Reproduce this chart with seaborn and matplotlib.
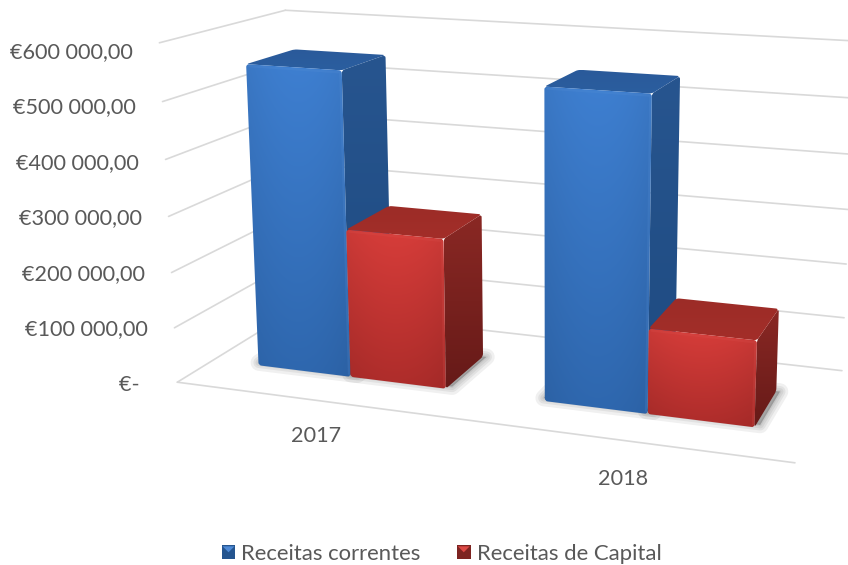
import numpy as np
import pandas as pd
import seaborn as sns
import matplotlib.pyplot as plt
from matplotlib.path import Path
from matplotlib.patches import Polygon, Rectangle
from matplotlib.transforms import Affine2D, Transform
from matplotlib.legend_handler import HandlerBase

# values
anos = ['2017', '2018']
receitas_correntes = [550000, 545000]
receitas_capital = [270000, 150000]
series = ['Receitas correntes', 'Receitas de Capital']
yticks = [0, 100000, 200000, 300000, 400000, 500000, 600000]
ylabels = ['€-  ', '€100 000,00', '€200 000,00', '€300 000,00', '€400 000,00', '€500 000,00', '€600 000,00']

W, H = 848, 565
YMAX = 600000.
Z0, Z1 = 0.28, 0.68
GRID = '#d9d9d9'
TXT = '#595959'

sns.set_theme(style='white')
plt.rcParams['font.family'] = ['Lato', 'DejaVu Sans']

# camera: (x 0-1, y 0-1, depth 0-1) -> picture pixel, fitted on the chart box and bar corners
r1, r2 = receitas_correntes[0] / YMAX, receitas_correntes[1] / YMAX
r3, r4 = receitas_capital[0] / YMAX, receitas_capital[1] / YMAX
box = [
    (0, 0, 0, 176, 382.7), (1, 0, 0, 793.3, 464), (0, 1, 0, 158.3, 46),
    (0, 0, 1, 297, 307.5), (1, 0, 1, 842, 373), (0, 1, 1, 283.3, 11.7), (1, 1, 1, 854, 41.5),
]
anchors = box * 4 + [
    (1/12, 0, Z0, 260, 365), (3/12, 0, Z0, 351.7, 376), (5/12, 0, Z0, 445, 387.7),
    (7/12, 0, Z0, 545, 400.7), (9/12, 0, Z0, 647.7, 412.7), (11/12, 0, Z0, 755, 426),
    (5/12, 0, Z1, 480.7, 356.7), (11/12, 0, Z1, 776, 393.3),
    (1/12, r1, Z0, 249.3, 61.7), (3/12, r1, Z0, 344, 68.3), (1/12, r1, Z1, 296.7, 46.7), (3/12, r1, Z1, 385, 51.7),
    (3/12, r3, Z0, 349.3, 229.3), (5/12, r3, Z0, 445, 239.3), (3/12, r3, Z1, 390, 207.3), (5/12, r3, Z1, 480, 215.7),
    (7/12, r2, Z0, 547.7, 84), (9/12, r2, Z0, 654, 89.3), (7/12, r2, Z1, 581.7, 66.7), (9/12, r2, Z1, 681, 74),
    (9/12, r4, Z0, 650, 325), (11/12, r4, Z0, 756.7, 336.7), (9/12, r4, Z1, 680, 297.3), (11/12, r4, Z1, 778.3, 308.3),
]
A, b = [], []
for x, y, z, u, v in anchors:
    A.append([x, y, z, 1, 0, 0, 0, 0, -u*x, -u*y, -u*z]); b.append(u)
    A.append([0, 0, 0, 0, x, y, z, 1, -v*x, -v*y, -v*z]); b.append(v)
cam = np.append(np.linalg.lstsq(np.array(A, float), np.array(b, float), rcond=None)[0], 1).reshape(3, 4)


def project(xd, yd, z):
    # xd is the categorical axis position (-0.5..1.5), yd the value
    xn = (np.asarray(xd, float) + 0.5) / 2
    yn = np.asarray(yd, float) / YMAX
    p = np.stack([xn, yn, np.full_like(xn, z), np.ones_like(xn)], axis=-1) @ cam.T
    return p[..., :2] / p[..., 2:]


class Depth(Transform):
    input_dims = output_dims = 2

    def __init__(self, z):
        super().__init__()
        self.z = z

    def transform_non_affine(self, values):
        px = project(values[:, 0], values[:, 1], self.z)
        return np.column_stack([px[:, 0], H - px[:, 1]])


df = pd.DataFrame({
    'ano': anos * 2,
    'valor': receitas_correntes + receitas_capital,
    'tipo': [series[0]] * 2 + [series[1]] * 2,
})

fig = plt.figure(figsize=(W / 100, H / 100), dpi=100)
ax = fig.add_axes([0, 0, 1, 1])
sns.barplot(data=df, x='ano', y='valor', hue='tipo', palette=['#3a77c4', '#c93734'],
            width=2/3, gap=0, saturation=1, legend=False, ax=ax)
ax.set_xlim(-0.5, 1.5)
ax.set_ylim(0, YMAX)
ax.axis('off')
px_trans = Affine2D().scale(1, -1).translate(0, H)


def rounded(pts, r=3.0):
    pts = np.asarray(pts)
    verts, codes = [], []
    n = len(pts)
    for i in range(n):
        p, a, c = pts[i], pts[i-1], pts[(i+1) % n]
        s = p + (a-p) / np.linalg.norm(a-p) * r
        e = p + (c-p) / np.linalg.norm(c-p) * r
        verts += [s, p, e]
        codes += [Path.LINETO if i else Path.MOVETO, Path.CURVE3, Path.CURVE3]
    verts.append(verts[0]); codes.append(Path.CLOSEPOLY)
    return Path(verts, codes)


def hex2rgb(c):
    return np.array([int(c[i:i+2], 16) for i in (1, 3, 5)]) / 255.


def face(pts, top, bottom, zo, bow=0.0):
    pts = np.asarray(pts)
    x0, y0 = pts.min(axis=0)
    x1, y1 = pts.max(axis=0)
    v = np.linspace(0, 1, 64)[:, None, None]
    u = np.linspace(-1, 1, 32)[None, :, None]
    img = (hex2rgb(top) * (1 - v) + hex2rgb(bottom) * v) * (1 + bow * (1 - u**2) - bow / 2)
    im = ax.imshow(np.clip(img, 0, 1), extent=(x0, x1, y1, y0), transform=px_trans,
                   origin='upper', aspect='auto', zorder=zo, interpolation='bilinear')
    im.set_clip_path(rounded(pts), transform=px_trans)


COLORS = {
    'blue': dict(front=('#3c7bca', '#2d64a9'), side=('#27558f', '#1e4a80'), top=('#2a5a9a', '#2b5e9f'), edge='#5b93d8'),
    'red': dict(front=('#d03b38', '#a82b29'), side=('#8a2824', '#661a18'), top=('#9c2c27', '#a32e29'), edge='#dd5552'),
}

# grid on the walls and the floor
for t in yticks:
    left = project([-0.5, -0.5], [t, t], 0)[0], project([-0.5, -0.5], [t, t], 1)[0]
    back = project([-0.5, 1.5], [t, t], 1)
    ax.plot(*zip(*left), color=GRID, lw=1.2, transform=px_trans, zorder=1)
    ax.plot(back[:, 0], back[:, 1], color=GRID, lw=1.2, transform=px_trans, zorder=1)
front = project([-0.5, 1.5], [0, 0], 0)
ax.plot(front[:, 0], front[:, 1], color=GRID, lw=1.2, transform=px_trans, zorder=1)

# the bars seaborn drew are the front faces, the rest is built from them
bars = sorted(ax.patches, key=lambda p: p.get_x())
for i, bar in enumerate(bars):
    x0, x1 = bar.get_x(), bar.get_x() + bar.get_width()
    h = bar.get_height()
    col = COLORS['blue'] if i % 2 == 0 else COLORS['red']
    zo = 10 + i * 2
    bar.set_transform(Depth(Z0))
    bar.set_visible(False)

    fl = project([x0, x1, x1, x0], [h, h, 0, 0], Z0)
    bk = project([x0, x1, x1, x0], [h, h, 0, 0], Z1)
    face(fl, *col['front'], zo + 0.5, bow=0.06)
    face([bk[1], fl[1], fl[2], bk[2]], *col['side'], zo + 0.2)
    face([bk[0], bk[1], fl[1], fl[0]], *col['top'], zo + 0.3)
    ax.plot([fl[0, 0] + 3, fl[1, 0] - 1.5, fl[2, 0] - 1.5], [fl[0, 1] + 2, fl[1, 1] + 2, fl[2, 1] - 3],
            color=col['edge'], alpha=0.2, lw=1.6, transform=px_trans, zorder=zo + 0.6)

    # soft floor shadow
    foot = np.vstack([project([x0 - 0.012, x1 + 0.012], [0, 0], Z0 + 0.03),
                      project([x1 + 0.012, x0 - 0.012], [0, 0], Z1)])
    for lw in (12, 8, 5, 2):
        ax.add_patch(Polygon(foot, closed=True, fc='#000000', ec='#000000', alpha=0.06, lw=lw,
                             joinstyle='round', transform=px_trans, zorder=5))

ax.set_xlim(-0.5, 1.5)
ax.set_ylim(0, YMAX)

# value labels are evenly spaced down the left side
for t, lab, py in zip(yticks, ylabels, np.linspace(385, 52, len(yticks))):
    gx = project([-0.5], [t], 0)[0, 0]
    ax.text(gx - 27, py, lab, ha='right', va='center', fontsize=15.6, color=TXT,
            transform=px_trans, clip_on=False)

for cat, (lx, ly) in zip(anos, [(316.5, 436.5), (623.5, 479)]):
    ax.text(lx, ly, cat, ha='center', va='center', fontsize=15.6, color=TXT, transform=px_trans)


class Bevel(HandlerBase):
    def create_artists(self, legend, orig, xd, yd, w, h, fontsize, trans):
        s = 10
        y0 = yd + (h - s) / 2
        base = Rectangle((xd, y0), s, s, fc=orig.get_edgecolor(), ec='none', transform=trans)
        tri = Polygon([(xd + 0.7, y0 + s - 0.7), (xd + s - 0.7, y0 + s - 0.7), (xd + s / 2, y0 + s / 2)],
                      fc=orig.get_facecolor(), ec='none', transform=trans)
        return [base, tri]


handles = [Rectangle((0, 0), 1, 1, fc='#4f8ad6', ec='#25558f'), Rectangle((0, 0), 1, 1, fc='#dd4a46', ec='#7d2421')]
ax.legend(handles, series, handler_map={Rectangle: Bevel()}, loc='center', ncol=2, frameon=False,
          bbox_to_anchor=(441.5 / W, 1 - 554 / H), fontsize=15.9, labelcolor=TXT, handlelength=0.63,
          handletextpad=0.27, columnspacing=1.63, borderpad=0)

fig.savefig('out.png', dpi=100)
